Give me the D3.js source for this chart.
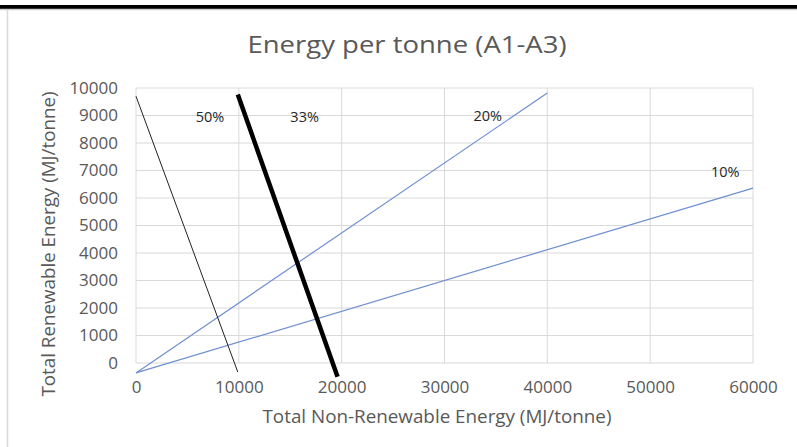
<!DOCTYPE html>
<html><head><meta charset="utf-8">
<script src="https://cdn.jsdelivr.net/npm/d3@7"></script>
<style>body{margin:0;background:#fff;}svg{display:block;font-family:"Open Sans",sans-serif;}</style>
</head><body>
<svg id="c" width="797" height="447"></svg>
<script>
const title = "Energy per tonne (A1-A3)";
const xTitle = "Total Non-Renewable Energy (MJ/tonne)";
const yTitle = "Total Renewable Energy (MJ/tonne)";
const xTicks = [0, 10000, 20000, 30000, 40000, 50000, 60000];
const yTicks = [0, 1000, 2000, 3000, 4000, 5000, 6000, 7000, 8000, 9000, 10000];
const seriesNames = ["50%", "33%", "20%", "10%"];
const line50 = [[0, 9700], [9900, -330]];
const line33 = [[9900, 9760], [19600, -500]];
const line20 = [[0, -360], [40000, 9820]];
const line10 = [[0, -360], [60000, 6360]];
const labelPos = [[7200, 8950], [16400, 8950], [34200, 9000], [57300, 6950]];

const svg = d3.select("#c");
// frame
svg.append("rect").attr("x",0).attr("y",5).attr("width",797).attr("height",4).attr("fill","#000");
svg.append("line").attr("x1",0).attr("x2",797).attr("y1",9.5).attr("y2",9.5).attr("stroke","#d0d0d0").attr("stroke-width",1.5);
svg.append("line").attr("x1",7.5).attr("x2",7.5).attr("y1",10).attr("y2",447).attr("stroke","#d9d9d9").attr("stroke-width",1.5);

const x = d3.scaleLinear().domain([0, 60000]).range([136, 753]);
const y = d3.scaleLinear().domain([0, 10000]).range([363, 88]);

const g = svg.append("g");
g.selectAll("line.h").data(yTicks).join("line")
  .attr("x1", x(0)).attr("x2", x(60000))
  .attr("y1", d => y(d)).attr("y2", d => y(d))
  .attr("stroke", "#d9d9d9").attr("stroke-width", 1);
g.selectAll("line.v").data(xTicks).join("line")
  .attr("y1", y(0)).attr("y2", y(10000))
  .attr("x1", d => x(d)).attr("x2", d => x(d))
  .attr("stroke", "#d9d9d9").attr("stroke-width", 1);

const yAxis = d3.axisLeft(y).tickValues(yTicks).tickSize(0).tickPadding(0).tickFormat(d3.format("d"));
const ya = svg.append("g").attr("transform", "translate(118,0)").call(yAxis);
const xAxis = d3.axisBottom(x).tickValues(xTicks).tickSize(0).tickPadding(0).tickFormat(d3.format("d"));
const xa = svg.append("g").attr("transform", "translate(0,381)").call(xAxis);
[ya, xa].forEach(a => {
  a.select(".domain").remove();
  a.selectAll("text").attr("fill", "#595959").style("font-size", "17px").style("font-family", "'Open Sans',sans-serif");
});
xa.selectAll("text").attr("dy", "0.71em");

const lineGen = d3.line().x(d => x(d[0])).y(d => y(d[1]));
svg.append("path").attr("d", lineGen(line20)).attr("fill","none").attr("stroke","#6f8fd0").attr("stroke-width",1.2);
svg.append("path").attr("d", lineGen(line10)).attr("fill","none").attr("stroke","#6f8fd0").attr("stroke-width",1.2);
svg.append("path").attr("d", lineGen(line50)).attr("fill","none").attr("stroke","#222").attr("stroke-width",1);
svg.append("path").attr("d", lineGen(line33)).attr("fill","none").attr("stroke","#000").attr("stroke-width",4.5);

svg.selectAll("text.lbl").data(seriesNames).join("text")
  .attr("x", (d,i) => x(labelPos[i][0])).attr("y", (d,i) => y(labelPos[i][1]))
  .attr("text-anchor", "middle").attr("dy", "0.35em")
  .attr("fill", "#262626").style("font-size", "14.5px").text(d => d);

svg.append("text").attr("x", 407).attr("y", 53).attr("text-anchor","middle")
  .attr("fill","#595959").style("font-size","24px")
  .attr("textLength", 319).attr("lengthAdjust","spacingAndGlyphs").text(title);
svg.append("text").attr("x", 437).attr("y", 423).attr("text-anchor","middle")
  .attr("fill","#595959").style("font-size","17.5px")
  .attr("textLength", 349).attr("lengthAdjust","spacingAndGlyphs").text(xTitle);
svg.append("text").attr("transform","translate(55,244) rotate(-90)").attr("text-anchor","middle")
  .attr("fill","#595959").style("font-size","17.5px")
  .attr("textLength", 305).attr("lengthAdjust","spacingAndGlyphs").text(yTitle);
</script>
</body></html>
